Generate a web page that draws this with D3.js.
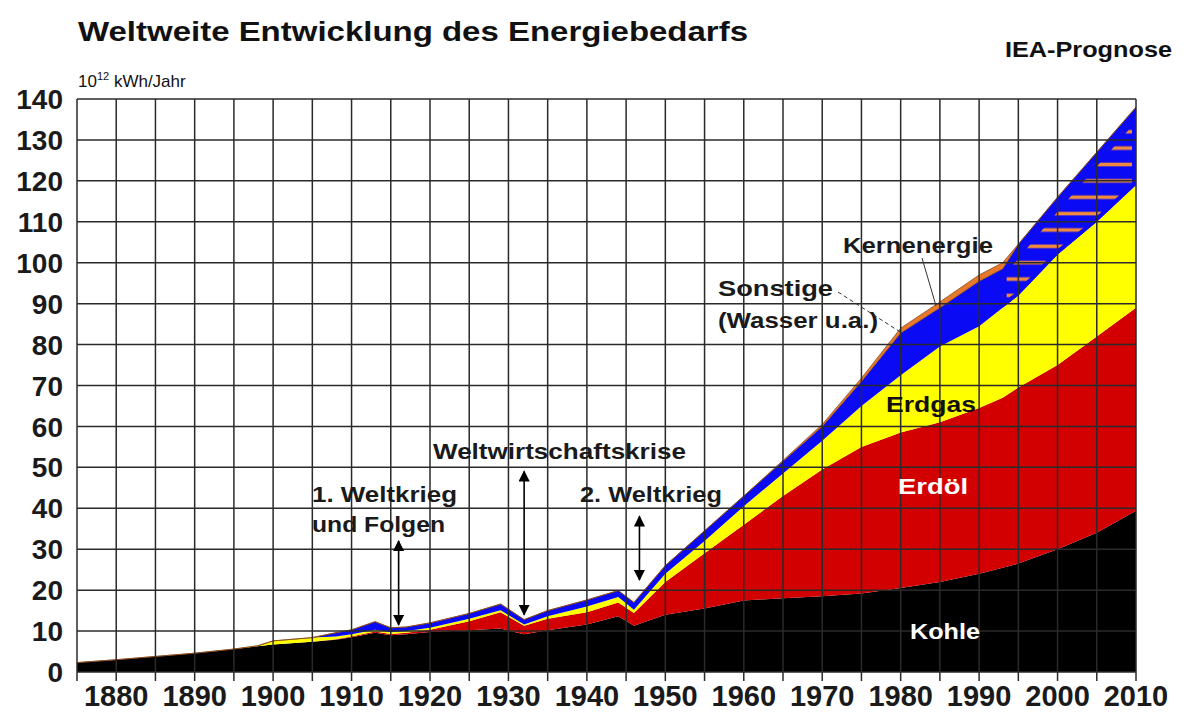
<!DOCTYPE html>
<html>
<head>
<meta charset="utf-8">
<script src="https://cdn.jsdelivr.net/npm/d3@7"></script>
<style>
  body { margin: 0; background: #fff; }
  svg { display: block; }
  text { font-family: "Liberation Sans", Arial, Helvetica, sans-serif; }
</style>
</head>
<body>
<svg id="chart" width="1188" height="717"></svg>
<script>
// Jahre und Anteile (10^12 kWh/Jahr)
const years = [1875, 1880, 1885, 1890, 1895, 1898, 1900, 1905, 1908, 1910, 1913, 1915, 1917, 1920, 1925, 1929, 1932, 1935, 1940, 1944, 1946, 1950, 1955, 1960, 1965, 1970, 1975, 1980, 1985, 1990, 1993, 1995, 2000, 2005, 2010];
const kohle       = [2.3, 3.0, 3.8, 4.6, 5.6, 6.3, 6.7, 7.4, 7.9, 8.5, 9.6, 9.0, 9.2, 9.8, 10.2, 10.6, 9.2, 10.2, 11.6, 13.6, 11.3, 14.0, 15.5, 17.5, 18.0, 18.5, 19.2, 20.5, 22.0, 24.0, 25.5, 26.5, 30.0, 34.0, 39.4];
const erdoel      = [0, 0, 0, 0, 0, 0, 0, 0, 0.1, 0.2, 0.3, 0.3, 0.4, 0.5, 2.2, 4.0, 2.1, 2.8, 3.0, 3.4, 3.1, 8.0, 13.5, 18.5, 25.0, 31.0, 35.8, 38.0, 39.0, 40.5, 41.5, 43.0, 45.0, 48.0, 49.6];
const erdgas      = [0, 0, 0, 0, 0, 0.1, 0.9, 1.0, 0.7, 0.5, 0.4, 0.4, 0.4, 0.5, 0.6, 0.5, 0.3, 0.6, 1.4, 1.3, 0.8, 2.0, 3.0, 4.5, 5.5, 7.0, 10.0, 14.0, 18.5, 20.0, 22.0, 22.5, 27.0, 28.0, 30.0];
const sonstige    = [0, 0, 0, 0, 0, 0, 0, 0, 0.9, 1.1, 2.0, 1.1, 1.0, 1.2, 1.3, 1.5, 1.2, 1.4, 1.6, 1.6, 1.8, 2.0, 2.5, 2.5, 3.0, 3.5, 6.0, 10.3, 9.5, 11.0, 9.5, 12.5, 14.0, 17.0, 19.0];
const kernenergie = [0, 0, 0, 0, 0, 0, 0, 0, 0, 0, 0, 0, 0, 0, 0, 0, 0, 0, 0, 0, 0, 0, 0, 0, 0.2, 0.5, 0.8, 1.2, 1.4, 1.5, 1.5, 0, 0, 0, 0];

// IEA-Prognose: schraffiertes Band (Kernenergie, Prognose)
const prognoseJahre = [1993, 1995, 2000, 2005, 2010];
const prognoseUnten = [89, 92, 102, 110, 119];
const prognoseOben  = [98, 102.5, 114, 125, 136];

const xTicks = d3.range(1880, 2011, 10);
const yTicks = d3.range(0, 141, 10);

const keys = ['kohle', 'erdoel', 'erdgas', 'sonstige', 'kernenergie'];
const colors = {
  kohle: '#000000',
  erdoel: '#d20000',
  erdgas: '#ffff00',
  sonstige: '#0a0af5',
  kernenergie: '#e8782a'
};

const series = { kohle, erdoel, erdgas, sonstige, kernenergie };
const rows = years.map((year, i) => {
  const r = { year };
  keys.forEach(k => { r[k] = series[k][i]; });
  return r;
});
const stacked = d3.stack().keys(keys)(rows);

const svg = d3.select('#chart');
const x = d3.scaleLinear().domain([1875, 2010]).range([77, 1136]);
const y = d3.scaleLinear().domain([0, 140]).range([672, 99]);

const defs = svg.append('defs');
defs.append('clipPath').attr('id', 'plot-clip')
  .append('rect')
  .attr('x', x(1875)).attr('y', y(140))
  .attr('width', x(2010) - x(1875)).attr('height', y(0) - y(140));

// Strichmuster fuer die Prognose
const step = y(0) - y(4);
const pat = defs.append('pattern')
  .attr('id', 'hatch')
  .attr('patternUnits', 'userSpaceOnUse')
  .attr('x', 0).attr('y', y(92) - step / 2)
  .attr('width', 40).attr('height', step);
pat.append('rect').attr('width', 40).attr('height', step).attr('fill', colors.sonstige);
pat.append('rect').attr('x', 0).attr('y', step / 2 - 1.8).attr('width', 40).attr('height', 3.6).attr('fill', '#f08a3c');

const area = d3.area()
  .x(d => x(d.data.year))
  .y0(d => y(d[0]))
  .y1(d => y(d[1]));

const plot = svg.append('g').attr('clip-path', 'url(#plot-clip)');

plot.selectAll('path.layer')
  .data(stacked)
  .join('path')
  .attr('class', 'layer')
  .attr('fill', d => colors[d.key])
  .attr('stroke', d => d.key === 'kernenergie' ? '#8a4a1a' : 'none')
  .attr('stroke-width', 0.8)
  .attr('d', area);

const progRows = prognoseJahre.map((year, i) => ({ year, lo: prognoseUnten[i], hi: prognoseOben[i] }));
const progArea = d3.area().x(d => x(d.year)).y0(d => y(d.lo)).y1(d => y(d.hi));
defs.append('clipPath').attr('id', 'prog-clip')
  .append('path').attr('d', progArea(progRows));
plot.append('path')
  .attr('d', progArea(progRows))
  .attr('clip-path', 'url(#prog-clip)')
  .attr('fill', 'url(#hatch)')
  .attr('stroke', colors.sonstige)
  .attr('stroke-width', 8);

// Gitter
const grid = svg.append('g').attr('stroke', '#2a2a2a').attr('stroke-width', 1.5);
grid.selectAll('line.v')
  .data(d3.range(1875, 2011, 5))
  .join('line')
  .attr('x1', d => x(d)).attr('x2', d => x(d))
  .attr('y1', y(140)).attr('y2', y(0) + 9);
grid.selectAll('line.h')
  .data(yTicks)
  .join('line')
  .attr('x1', x(1875)).attr('x2', x(2010))
  .attr('y1', d => y(d)).attr('y2', d => y(d));

// Achsenbeschriftung
svg.append('g')
  .selectAll('text')
  .data(yTicks)
  .join('text')
  .attr('x', 63)
  .attr('y', d => y(d))
  .attr('dy', '0.36em')
  .attr('text-anchor', 'end')
  .attr('font-size', 28)
  .attr('font-weight', 'bold')
  .attr('fill', '#1a1a1a')
  .text(d => d);

svg.append('g')
  .selectAll('text')
  .data(xTicks)
  .join('text')
  .attr('x', d => x(d))
  .attr('y', 706)
  .attr('text-anchor', 'middle')
  .attr('font-size', 29)
  .attr('font-weight', 'bold')
  .attr('fill', '#1a1a1a')
  .text(d => d);

// Titel
svg.append('text')
  .attr('x', 78).attr('y', 41)
  .attr('font-size', 28).attr('font-weight', 'bold')
  .attr('textLength', 670).attr('lengthAdjust', 'spacingAndGlyphs')
  .attr('fill', '#111')
  .text('Weltweite Entwicklung des Energiebedarfs');

svg.append('text')
  .attr('x', 1005).attr('y', 57)
  .attr('font-size', 22).attr('font-weight', 'bold')
  .attr('textLength', 167).attr('lengthAdjust', 'spacingAndGlyphs')
  .attr('fill', '#111')
  .text('IEA-Prognose');

const unit = svg.append('text')
  .attr('x', 78).attr('y', 87)
  .attr('font-size', 17)
  .attr('fill', '#111');
unit.append('tspan').text('10');
unit.append('tspan').attr('font-size', 11).attr('dy', -7).text('12');
unit.append('tspan').attr('dy', 7).text(' kWh/Jahr');

// Annotationen
defs.append('marker')
  .attr('id', 'head')
  .attr('viewBox', '0 0 10 10')
  .attr('refX', 9).attr('refY', 5)
  .attr('markerWidth', 7).attr('markerHeight', 7)
  .attr('orient', 'auto-start-reverse')
  .append('path').attr('d', 'M0,0L10,5L0,10z').attr('fill', '#000');

const arrows = [
  { year: 1916, from: 32, to: 11.5 },
  { year: 1932, from: 49, to: 14 },
  { year: 1946.7, from: 38, to: 22.5 }
];
svg.append('g')
  .selectAll('line')
  .data(arrows)
  .join('line')
  .attr('x1', d => x(d.year)).attr('x2', d => x(d.year))
  .attr('y1', d => y(d.from)).attr('y2', d => y(d.to))
  .attr('stroke', '#000').attr('stroke-width', 1.6)
  .attr('marker-start', 'url(#head)').attr('marker-end', 'url(#head)');

const labels = [
  { t: '1. Weltkrieg', x: 312, y: 502, w: 145, c: '#1a1a1a' },
  { t: 'und Folgen', x: 312, y: 532, w: 133, c: '#1a1a1a' },
  { t: 'Weltwirtschaftskrise', x: 433, y: 459, w: 253, c: '#1a1a1a' },
  { t: '2. Weltkrieg', x: 580, y: 502, w: 142, c: '#1a1a1a' },
  { t: 'Sonstige', x: 718, y: 296, w: 115, c: '#1a1a1a' },
  { t: '(Wasser u.a.)', x: 718, y: 328, w: 160, c: '#1a1a1a' },
  { t: 'Kernenergie', x: 843, y: 253, w: 150, c: '#1a1a1a' },
  { t: 'Erdgas', x: 886, y: 412, w: 90, c: '#111' },
  { t: 'Erdöl', x: 898, y: 494, w: 70, c: '#fff' },
  { t: 'Kohle', x: 910, y: 639, w: 70, c: '#fff' }
];
svg.append('g')
  .selectAll('text')
  .data(labels)
  .join('text')
  .attr('x', d => d.x).attr('y', d => d.y)
  .attr('font-size', 22).attr('font-weight', 'bold')
  .attr('textLength', d => d.w).attr('lengthAdjust', 'spacingAndGlyphs')
  .attr('fill', d => d.c)
  .text(d => d.t);

// Hinweislinien
svg.append('line')
  .attr('x1', 838).attr('y1', 292).attr('x2', x(1980)).attr('y2', y(83))
  .attr('stroke', '#333').attr('stroke-width', 1).attr('stroke-dasharray', '4,3');
svg.append('line')
  .attr('x1', 922).attr('y1', 258).attr('x2', x(1984.5)).attr('y2', y(89.5))
  .attr('stroke', '#333').attr('stroke-width', 1);
</script>
</body>
</html>
